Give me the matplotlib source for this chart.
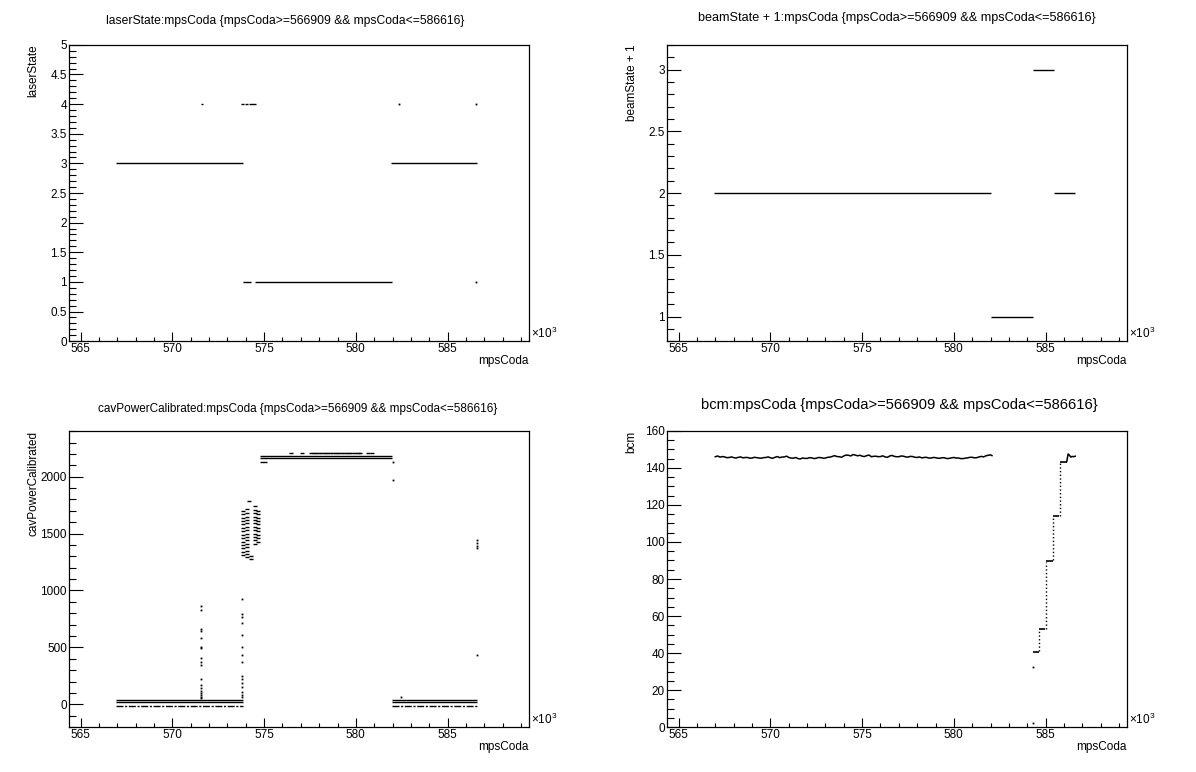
import matplotlib
matplotlib.use('Agg')
import matplotlib.pyplot as plt
from matplotlib.ticker import MultipleLocator, FuncFormatter

FONT = 'Liberation Sans'
plt.rcParams['font.family'] = [FONT, 'DejaVu Sans']
plt.rcParams['mathtext.fontset'] = 'custom'
plt.rcParams['mathtext.rm'] = FONT

# ---------------- data ----------------
titles = [
    "laserState:mpsCoda {mpsCoda>=566909 && mpsCoda<=586616}",
    "beamState + 1:mpsCoda {mpsCoda>=566909 && mpsCoda<=586616}",
    "cavPowerCalibrated:mpsCoda {mpsCoda>=566909 && mpsCoda<=586616}",
    "bcm:mpsCoda {mpsCoda>=566909 && mpsCoda<=586616}",
]
ylabels = ["laserState", "beamState + 1", "cavPowerCalibrated", "bcm"]
xlabel = "mpsCoda"

# laserState (dense runs of points drawn as segments)
laser_seg_y = [3, 4, 4, 4, 4, 1, 1, 3]
laser_seg_x0 = [566909, 571560, 573760, 573950, 574150, 573820, 574500, 581900]
laser_seg_x1 = [573850, 571640, 573900, 574100, 574560, 574280, 581980, 586616]
laser_pt_x = [582350, 586550, 586550]
laser_pt_y = [4, 4, 1]

# beamState + 1
beam_seg_y = [2, 1, 3, 2]
beam_seg_x0 = [566909, 582000, 584300, 585470]
beam_seg_x1 = [582000, 584300, 585450, 586616]

# cavPowerCalibrated
cav_line_y = [38, 20, 2180, 2165, 38, 20]
cav_line_x0 = [566909, 566909, 574780, 574780, 581980, 581980]
cav_line_x1 = [573830, 573830, 581990, 581990, 586616, 586616]
cav_dash_y = [-15, -15, 2130]
cav_dash_x0 = [566909, 581980, 574780]
cav_dash_x1 = [573830, 586616, 575200]
spike1_x = 571550
spike1_y = [860, 830, 660, 640, 580, 506, 492, 404, 374, 345, 220, 170, 140, 120, 97, 82, 67, 55]
spike2_x = 573800
spike2_y = [925, 791, 770, 712, 609, 506, 433, 374, 249, 222, 185, 155, 111, 82, 60]
cluster_x = ([573870] * 14 + [574050] * 15 + [574520] * 12 + [574660] * 10
             + [574300, 574300, 574150])
cluster_y = ([1700, 1670, 1640, 1610, 1580, 1550, 1520, 1490, 1460, 1430, 1400, 1370, 1340, 1310]
             + [1720, 1680, 1650, 1620, 1590, 1560, 1530, 1500, 1470, 1440, 1410, 1380, 1350, 1320, 1290]
             + [1740, 1710, 1680, 1650, 1620, 1590, 1560, 1530, 1500, 1470, 1440, 1410]
             + [1700, 1670, 1640, 1610, 1580, 1550, 1520, 1490, 1460, 1430]
             + [1300, 1280, 1790])
cav_top_x = [576460, 577090, 577570, 577700, 577850, 578000, 578150, 578300, 578450,
             578600, 578750, 578900, 579050, 579200, 579350, 579500, 579650, 579800,
             579950, 580100, 580240, 580660, 580870]
cav_top_y = [2205] * 23
cav_misc_x = [582000, 582000, 582440, 586600, 586600, 586600, 586600, 586600]
cav_misc_y = [1970, 2130, 62, 1445, 1420, 1395, 1370, 430]

# bcm
bcm_x = [566990, 567120, 567250, 567380, 567500, 567620, 567750, 567880, 568000, 568120,
         568250, 568380, 568500, 568620, 568750, 568880, 569000, 569120, 569250, 569380,
         569500, 569620, 569750, 569880, 570000, 570120, 570250, 570380, 570500, 570620,
         570750, 570880, 571000, 571120, 571250, 571380, 571500, 571620, 571750, 571880,
         572000, 572120, 572250, 572380, 572500, 572620, 572750, 572880, 573000, 573120,
         573250, 573380, 573500, 573620, 573750, 573880, 574000, 574120, 574250, 574380,
         574500, 574620, 574750, 574880, 575000, 575120, 575250, 575380, 575500, 575620,
         575750, 575880, 576000, 576120, 576250, 576380, 576500, 576620, 576750, 576880,
         577000, 577120, 577250, 577380, 577500, 577620, 577750, 577880, 578000, 578120,
         578250, 578380, 578500, 578620, 578750, 578880, 579000, 579120, 579250, 579380,
         579500, 579620, 579750, 579880, 580000, 580120, 580250, 580380, 580500, 580620,
         580750, 580880, 581000, 581120, 581250, 581380, 581500, 581620, 581750, 581880,
         582000, 582080]
bcm_y = [146.0, 146.4, 145.8, 146.1, 145.9, 145.5, 145.6, 145.9, 145.5, 145.3,
         145.7, 145.9, 145.4, 145.6, 145.6, 145.2, 145.3, 145.7, 145.5, 145.3,
         145.2, 145.5, 145.6, 145.9, 145.4, 145.2, 145.7, 146.1, 145.5, 145.8,
         145.9, 146.3, 145.6, 145.3, 145.2, 145.6, 145.0, 144.8, 145.3, 145.1,
         145.1, 145.5, 145.4, 145.0, 145.2, 145.6, 145.5, 145.2, 145.3, 145.7,
         145.8, 146.2, 146.6, 146.1, 146.0, 145.7, 146.4, 146.9, 146.8, 146.4,
         147.2, 146.9, 146.5, 146.8, 146.3, 146.1, 146.6, 146.9, 146.0, 146.2,
         146.3, 146.0, 146.1, 146.5, 145.9, 145.7, 146.4, 146.7, 146.2, 146.0,
         146.0, 146.4, 146.3, 145.9, 145.8, 146.2, 146.1, 145.7, 145.6, 145.9,
         145.4, 145.6, 145.7, 145.3, 145.3, 145.6, 145.5, 145.2, 145.2, 145.5,
         145.4, 145.0, 145.1, 145.4, 145.6, 145.3, 145.3, 145.0, 145.0, 145.2,
         145.4, 145.7, 145.7, 145.4, 145.5, 145.9, 146.2, 145.9, 146.5, 146.8,
         147.0, 146.6]
bcm_step_y = [40.8, 52.8, 89.9, 114.0, 143.0]
bcm_step_x0 = [584310, 584630, 585030, 585400, 585790]
bcm_step_x1 = [584620, 584990, 585430, 585760, 586160]
bcm_ramp_x = [584630, 585030, 585430, 585790]
bcm_ramp_y0 = [41, 53, 90, 114]
bcm_ramp_y1 = [52.5, 89, 114, 142.5]
bcm_tail_x = [586160, 586230, 586300, 586380, 586450, 586530, 586616]
bcm_tail_y = [143.5, 147.5, 146.8, 145.8, 146.2, 146.0, 146.3]
bcm_pt_x = [584340, 584340]
bcm_pt_y = [32.3, 2]

# ---------------- layout ----------------
W, H = 1196, 772
fig = plt.figure(figsize=(W / 100, H / 100), dpi=100)
fig.patch.set_facecolor('white')

frames = [(69.4, 44.8, 528.6, 341.2), (667.4, 44.8, 1126.6, 341.2),
          (69.4, 430.8, 528.6, 727.2), (667.4, 430.8, 1126.6, 727.2)]
ylims = [(0, 5), (0.8, 3.2), (-201, 2403), (0, 160)]
ymajor = [0.5, 0.5, 500, 20]
yminor = [0.1, 0.1, 100, 5]
title_pos = [(285.6, 20.8, 356), (896.6, 17.5, 395), (297.7, 409, 397), (899, 404.5, 394)]
ylabel_x = [33.7, 631.7, 33.7, 631.7]
XLIM = (564380, 589420)

axes = []
for i, (l, t, r, b) in enumerate(frames):
    ax = fig.add_axes([l / W, 1 - b / H, (r - l) / W, (b - t) / H])
    ax.set_xlim(*XLIM)
    ax.set_ylim(*ylims[i])
    ax.xaxis.set_major_locator(MultipleLocator(5000))
    ax.xaxis.set_minor_locator(MultipleLocator(1000))
    ax.yaxis.set_major_locator(MultipleLocator(ymajor[i]))
    ax.yaxis.set_minor_locator(MultipleLocator(yminor[i]))
    ax.xaxis.set_major_formatter(FuncFormatter(lambda v, p: f"{v / 1000:g}"))
    ax.yaxis.set_major_formatter(FuncFormatter(lambda v, p: f"{round(v, 6):g}"))
    ax.tick_params(which='both', direction='in', top=False, right=False,
                   labelsize=8.5, width=0.8, color='black')
    ax.tick_params(axis='x', which='major', length=6.5, pad=1.0)
    ax.tick_params(axis='x', which='minor', length=3.2)
    ax.tick_params(axis='y', which='major', length=9.9, pad=1.8)
    ax.tick_params(axis='y', which='minor', length=5.0)
    for s in ax.spines.values():
        s.set_linewidth(0.9)
    ax.text(1.006, 0.0, r'$\mathregular{\times10^{3}}$', transform=ax.transAxes,
            ha='left', va='bottom', fontsize=8.5)
    fig.text(r / W, 1 - (b + 20) / H, xlabel, ha='right', va='center', fontsize=8.5)
    fig.text(ylabel_x[i] / W, 1 - t / H, ylabels[i], rotation=90,
             ha='center', va='top', fontsize=8.5)
    axes.append(ax)

# titles fitted to measured widths
renderer = fig.canvas.get_renderer()
for i, (cx, cy, wpx) in enumerate(title_pos):
    tt = fig.text(cx / W, 1 - cy / H, titles[i], ha='center', va='center', fontsize=10)
    w = tt.get_window_extent(renderer).width
    tt.set_fontsize(10 * wpx / w)

LW = 1.0
ax1, ax2, ax3, ax4 = axes
# panel 1
ax1.hlines(laser_seg_y, laser_seg_x0, laser_seg_x1, color='k', lw=LW)
ax1.plot(laser_pt_x, laser_pt_y, ls='none', marker='s', ms=1.3, mew=0, color='k')
# panel 2
ax2.hlines(beam_seg_y, beam_seg_x0, beam_seg_x1, color='k', lw=LW)
# panel 3
ax3.hlines(cav_line_y, cav_line_x0, cav_line_x1, color='k', lw=LW)
ax3.hlines(cav_dash_y, cav_dash_x0, cav_dash_x1, color='k', lw=LW,
           linestyles=[(0, (5, 1.2, 1.5, 1.2))])
ax3.plot([spike1_x] * len(spike1_y), spike1_y, ls='none', marker='s', ms=1.3, mew=0, color='k')
ax3.plot([spike2_x] * len(spike2_y), spike2_y, ls='none', marker='s', ms=1.3, mew=0, color='k')
ax3.plot(cluster_x, cluster_y, ls='none', marker='_', ms=3.5, mew=1.0, color='k')
ax3.plot(cav_top_x, cav_top_y, ls='none', marker='_', ms=2.5, mew=1.0, color='k')
ax3.plot(cav_misc_x, cav_misc_y, ls='none', marker='s', ms=1.3, mew=0, color='k')
# panel 4
ax4.plot(bcm_x, bcm_y, color='k', lw=1.1)
ax4.hlines(bcm_step_y, bcm_step_x0, bcm_step_x1, color='k', lw=1.2)
ax4.vlines(bcm_ramp_x, bcm_ramp_y0, bcm_ramp_y1, color='k', lw=1.0, linestyles='dotted')
ax4.plot(bcm_tail_x, bcm_tail_y, color='k', lw=1.1)
ax4.plot(bcm_pt_x, bcm_pt_y, ls='none', marker='s', ms=1.3, mew=0, color='k')

fig.savefig('out.png', dpi=100, facecolor='white')
